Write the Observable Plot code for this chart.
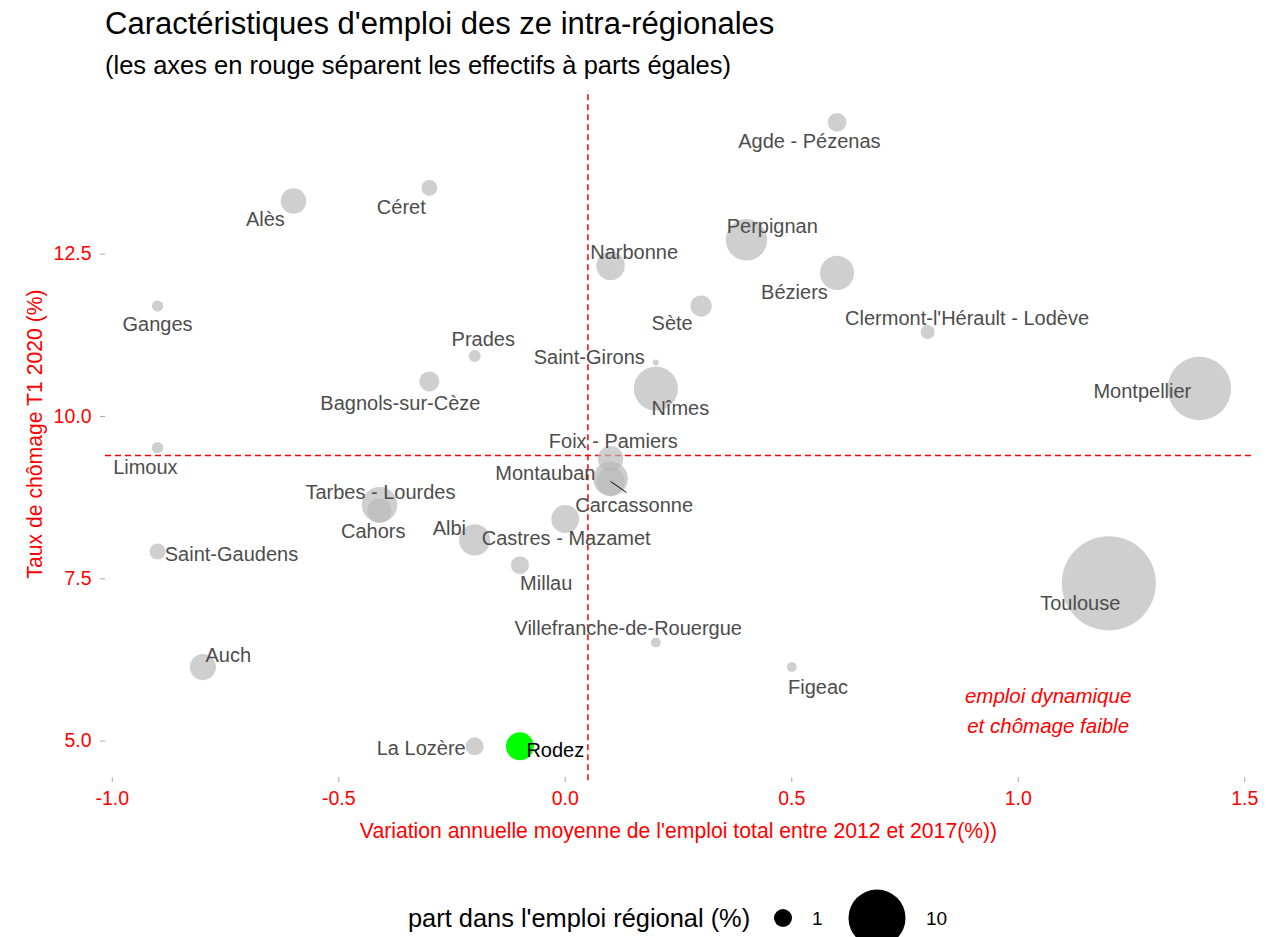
<!DOCTYPE html>
<html>
<head>
<meta charset="utf-8">
<script src="https://cdn.jsdelivr.net/npm/d3@7"></script>
<script src="https://cdn.jsdelivr.net/npm/@observablehq/plot@0.6"></script>
<style>
  html, body { margin: 0; padding: 0; background: #fff; }
  body { width: 1268px; height: 937px; position: relative; overflow: hidden;
         font-family: "Liberation Sans", Arial, sans-serif; }
  #title { position: absolute; left: 105px; top: 6px; font-size: 31px; color: #000; white-space: nowrap; }
  #subtitle { position: absolute; left: 105px; top: 51px; font-size: 25.5px; color: #000; white-space: nowrap; }
  #chart { position: absolute; left: 0; top: 84px; }
  #legend { position: absolute; left: 0; top: 880px; }
</style>
</head>
<body>
<div id="title">Caractéristiques d'emploi des ze intra-régionales</div>
<div id="subtitle">(les axes en rouge séparent les effectifs à parts égales)</div>
<div id="chart"></div>
<div id="legend"></div>
<script>
// ---- data ----
const zones = ["Agde - Pézenas","Céret","Alès","Perpignan","Narbonne","Béziers","Ganges","Sète",
  "Clermont-l'Hérault - Lodève","Prades","Saint-Girons","Bagnols-sur-Cèze","Nîmes","Montpellier",
  "Limoux","Foix - Pamiers","Montauban","Carcassonne","Tarbes - Lourdes","Cahors","Albi",
  "Castres - Mazamet","Saint-Gaudens","Millau","Toulouse","Villefranche-de-Rouergue","Figeac",
  "Auch","La Lozère","Rodez"];
// variation annuelle moyenne de l'emploi total 2012-2017 (%)
const emploiVar = [0.6,-0.3,-0.6,0.4,0.1,0.6,-0.9,0.3,0.8,-0.2,0.2,-0.3,0.2,1.4,
  -0.9,0.1,0.1,0.1,-0.41,-0.41,-0.2,0.0,-0.9,-0.1,1.2,0.2,0.5,-0.8,-0.2,-0.1];
// taux de chômage T1 2020 (%)
const chomage = [14.53,13.52,13.32,12.72,12.32,12.21,11.7,11.7,11.3,10.93,10.83,10.54,10.43,10.43,
  9.52,9.35,9.04,9.0,8.64,8.55,8.1,8.42,7.92,7.71,7.43,6.52,6.14,6.14,4.92,4.92];
// part dans l'emploi régional (%)
const part = [1.07,0.79,2.0,5.3,2.5,3.6,0.4,1.4,0.6,0.44,0.11,1.23,6.0,12.4,
  0.4,2.0,3.7,2.5,3.9,1.8,3.0,2.4,0.8,1.0,27.3,0.3,0.3,2.1,1.0,2.4];
// label anchor positions (data units) as placed by the repel algorithm
const labelX = [0.539,-0.362,-0.662,0.457,0.152,0.506,-0.90,0.236,0.887,-0.181,0.053,-0.364,0.254,1.274,
  -0.927,0.106,-0.044,0.152,-0.408,-0.424,-0.256,0.002,-0.737,-0.042,1.137,0.139,0.558,-0.744,-0.318,-0.022];
const labelY = [14.23,13.22,13.03,12.92,12.52,11.91,11.42,11.43,11.51,11.18,10.91,10.2,10.12,10.38,
  9.22,9.62,9.12,8.62,8.82,8.23,8.28,8.12,7.88,7.42,7.12,6.74,5.83,6.32,4.89,4.86];
const highlighted = ["Rodez"];
// repel segment (Carcassonne point to its label)
const segX = [0.1, 0.135];
const segY = [9.0, 8.83];
// medians (axes en rouge)
const medianX = [0.05];
const medianY = [9.4];
const xTicks = [-1.0,-0.5,0.0,0.5,1.0,1.5];
const yTicks = [5.0,7.5,10.0,12.5];
const legendValues = [1, 10];
const annotation = ["emploi dynamique\net chômage faible"];
const annotX = [1.066];
const annotY = [5.5];
const xLabel = "Variation annuelle moyenne de l'emploi total entre 2012 et 2017(%))";
const yLabel = "Taux de chômage T1 2020 (%)";
const legendTitle = "part dans l'emploi régional (%)";

const data = zones.map((z, i) => ({
  zone: z, x: emploiVar[i], y: chomage[i], part: part[i],
  lx: labelX[i], ly: labelY[i], hi: highlighted.includes(z)
}));
const normal = data.filter(d => !d.hi);
const hi = data.filter(d => d.hi);
const seg = [{x1: segX[0], y1: segY[0], x2: segX[1], y2: segY[1]}];
const fmt = d => d.toFixed(1);
const FONT = '"Liberation Sans", Arial, sans-serif';

const rScale = {type: "sqrt", domain: [0, 10], range: [0, 28.5]};

const chart = Plot.plot({
  width: 1268, height: 770,
  marginLeft: 105, marginRight: 17, marginTop: 6, marginBottom: 77,
  style: {fontFamily: FONT, background: "transparent", overflow: "visible"},
  x: {domain: [-1.015, 1.515]},
  y: {domain: [4.44, 15.02]},
  r: rScale,
  marks: [
    Plot.ruleX(medianX, {stroke: "#ff0000", strokeWidth: 1.5, strokeDasharray: "6,4", y1: 4.39, y2: 15.02}),
    Plot.ruleY(medianY, {stroke: "#ff0000", strokeWidth: 1.5, strokeDasharray: "6,4"}),
    Plot.dot(normal, {x: "x", y: "y", r: "part", fill: "#b8b8b8", fillOpacity: 0.68}),
    Plot.dot(hi, {x: "x", y: "y", r: "part", fill: "#00ff00"}),
    Plot.link(seg, {x1: "x1", y1: "y1", x2: "x2", y2: "y2", stroke: "#000", strokeWidth: 1}),
    Plot.text(normal, {x: "lx", y: "ly", text: "zone", fill: "#4d4d4d", fontSize: 20}),
    Plot.text(hi, {x: "lx", y: "ly", text: "zone", fill: "#000", fontSize: 20}),
    Plot.text(annotation, {x: () => annotX[0], y: () => annotY[0], text: d => d, fill: "#ff0000",
      fontStyle: "italic", fontSize: 20.5, lineHeight: 1.42}),
    Plot.axisX({ticks: xTicks, tickFormat: fmt, tickSize: 5, tickPadding: 9, stroke: "#aaaaaa",
      fill: "#ff0000", fontSize: 19.5, label: null}),
    Plot.axisY({ticks: yTicks, tickFormat: fmt, tickSize: 5, tickPadding: 9, stroke: "#aaaaaa",
      fill: "#ff0000", fontSize: 19.5, label: null}),
    Plot.text([xLabel], {frameAnchor: "bottom", lineAnchor: "middle", textAnchor: "middle", dy: 54,
      text: d => d, fill: "#ff0000", fontSize: 21.2}),
    Plot.text([yLabel], {frameAnchor: "left", textAnchor: "middle", lineAnchor: "middle", dx: -70,
      rotate: -90, text: d => d, fill: "#ff0000", fontSize: 21.2})
  ]
});
document.getElementById("chart").appendChild(chart);

// ---- size legend, using the chart's own r scale ----
const r = chart.scale("r");
const rad = v => r.apply(v);
const lg = d3.select("#legend").append("svg")
  .attr("width", 1268).attr("height", 57)
  .style("font-family", FONT).style("overflow", "visible");
const cy = 38;
lg.append("text").attr("x", 408).attr("y", cy).attr("dy", "0.35em")
  .attr("font-size", 25.4).attr("fill", "#000").text(legendTitle);
const keyX = [783, 877];
const labX = [812, 926];
legendValues.forEach((v, i) => {
  lg.append("circle").attr("cx", keyX[i]).attr("cy", cy).attr("r", rad(v)).attr("fill", "#000");
  lg.append("text").attr("x", labX[i]).attr("y", cy).attr("dy", "0.35em")
    .attr("font-size", 19).attr("fill", "#000").text(String(v));
});
</script>
</body>
</html>
